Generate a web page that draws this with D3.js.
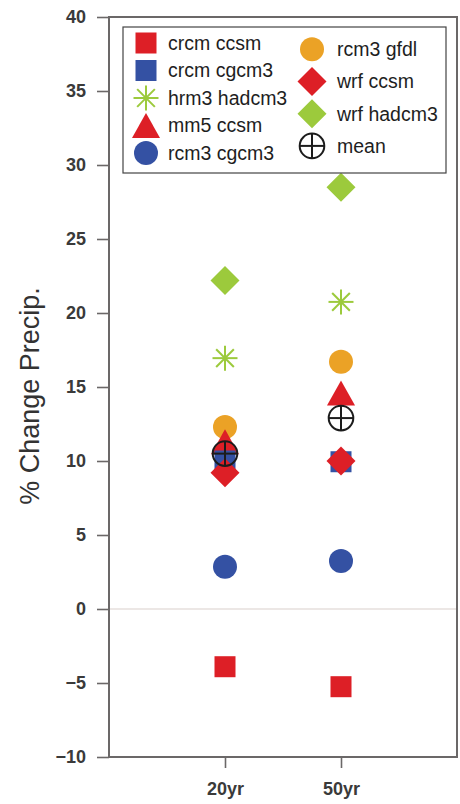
<!DOCTYPE html>
<html><head><meta charset="utf-8">
<script src="https://cdn.jsdelivr.net/npm/d3@7"></script>
<style>body{margin:0;background:#fff}</style>
</head><body>
<svg id="c" width="460" height="804"></svg>
<script>
// ---- data ----
const periods = ["20yr", "50yr"];
const seriesNames = ["crcm ccsm", "crcm cgcm3", "hrm3 hadcm3", "mm5 ccsm", "rcm3 cgcm3", "rcm3 gfdl", "wrf ccsm", "wrf hadcm3", "mean"];
const crcmCcsm   = [-3.9, -5.25];
const crcmCgcm3  = [10.0, 9.95];
const hrm3Hadcm3 = [16.95, 20.75];
const mm5Ccsm    = [11.3, 14.6];
const rcm3Cgcm3  = [2.85, 3.25];
const rcm3Gfdl   = [12.3, 16.7];
const wrfCcsm    = [9.2, 10.0];
const wrfHadcm3  = [22.2, 28.5];
const meanVals   = [10.5, 12.9];
const yTicks = [-10, -5, 0, 5, 10, 15, 20, 25, 30, 35, 40];
const yLabel = "% Change Precip.";

const seriesValues = [crcmCcsm, crcmCgcm3, hrm3Hadcm3, mm5Ccsm, rcm3Cgcm3, rcm3Gfdl, wrfCcsm, wrfHadcm3, meanVals];

// ---- styles ----
const RED = "#dd1f26", BLUE = "#3451a3", GREEN = "#9cca3c", ORANGE = "#eba226";
const styles = [
  {kind: "square", color: RED},
  {kind: "square", color: BLUE},
  {kind: "star", color: GREEN},
  {kind: "triangle", color: RED},
  {kind: "circle", color: BLUE},
  {kind: "circle", color: ORANGE},
  {kind: "diamond", color: RED},
  {kind: "diamond", color: GREEN},
  {kind: "mean", color: "#1c1c1c"}
];
const drawOrder = [0, 4, 5, 2, 3, 1, 6, 7, 8];

const FONT = "'Liberation Sans', Arial, Helvetica, sans-serif";
const svg = d3.select("#c");

const L = 109, R = 457, T = 17, B = 757;
const x = d3.scalePoint().domain(periods).range([L, R]).padding(1);
const y = d3.scaleLinear().domain([-10, 40]).range([B, T]);

function symbol(g, kind, color) {
  if (kind === "square") {
    g.append("rect").attr("x", -10.5).attr("y", -10.5).attr("width", 21).attr("height", 21).attr("fill", color);
  } else if (kind === "circle") {
    g.append("circle").attr("r", 12).attr("fill", color);
  } else if (kind === "triangle") {
    g.append("path").attr("d", "M0,-12.5L14,12.5L-14,12.5Z").attr("fill", color);
  } else if (kind === "diamond") {
    g.append("path").attr("d", "M0,-14.5L14.5,0L0,14.5L-14.5,0Z").attr("fill", color);
  } else if (kind === "star") {
    [0, 45, 90, 135].forEach(a => {
      g.append("line").attr("x1", -12.5).attr("x2", 12.5).attr("y1", 0).attr("y2", 0)
        .attr("transform", `rotate(${a})`).attr("stroke", color).attr("stroke-width", 2);
    });
  } else if (kind === "mean") {
    g.append("circle").attr("r", 12.3).attr("fill", "none").attr("stroke", color).attr("stroke-width", 2);
    g.append("line").attr("x1", -12.3).attr("x2", 12.3).attr("stroke", color).attr("stroke-width", 2);
    g.append("line").attr("y1", -12.3).attr("y2", 12.3).attr("stroke", color).attr("stroke-width", 2);
  }
}

// zero line
svg.append("line").attr("x1", L).attr("x2", R).attr("y1", y(0)).attr("y2", y(0))
  .attr("stroke", "#d9cfcc").attr("stroke-width", 1.2);

// axes
const yAxis = svg.append("g").attr("transform", `translate(${L},0)`)
  .call(d3.axisLeft(y).tickValues(yTicks).tickSize(12).tickPadding(11));
const xAxis = svg.append("g").attr("transform", `translate(0,${B})`)
  .call(d3.axisBottom(x).tickSize(11).tickPadding(14));
[yAxis, xAxis].forEach(a => {
  a.select(".domain").remove();
  a.selectAll(".tick line").attr("stroke", "#6b6868").attr("stroke-width", 1.6);
  a.selectAll(".tick text").attr("font-family", FONT).attr("font-size", 18)
    .attr("font-weight", "bold").attr("fill", "#3a3a3a");
});

// frame
svg.append("rect").attr("x", L).attr("y", T).attr("width", R - L).attr("height", B - T)
  .attr("fill", "none").attr("stroke", "#6b6868").attr("stroke-width", 2);

// y label
svg.append("text").attr("transform", `translate(39,396) rotate(-90)`)
  .attr("text-anchor", "middle").attr("font-family", FONT).attr("font-size", 27)
  .attr("fill", "#333").text(yLabel);

// marks
drawOrder.forEach(si => {
  const st = styles[si];
  periods.forEach((p, i) => {
    const g = svg.append("g").attr("transform", `translate(${x(p)},${y(seriesValues[si][i])})`);
    symbol(g, st.kind, st.color);
  });
});

// legend
const lg = svg.append("g");
lg.append("rect").attr("x", 123).attr("y", 27).attr("width", 323).attr("height", 146)
  .attr("fill", "#fff").attr("stroke", "#444").attr("stroke-width", 1.2);
seriesNames.forEach((name, i) => {
  let mx, my, tx;
  if (i < 5) { mx = 146; my = 43 + i * 27.5; tx = 168; }
  else { mx = 312; my = 49.3 + (i - 5) * 32.2; tx = 337; }
  const g = lg.append("g").attr("transform", `translate(${mx},${my})`);
  symbol(g, styles[i].kind, styles[i].color);
  lg.append("text").attr("x", tx).attr("y", my + 6.8).attr("font-family", FONT)
    .attr("font-size", 19.5).attr("fill", "#1e1e1e").text(name);
});
</script>
</body></html>
